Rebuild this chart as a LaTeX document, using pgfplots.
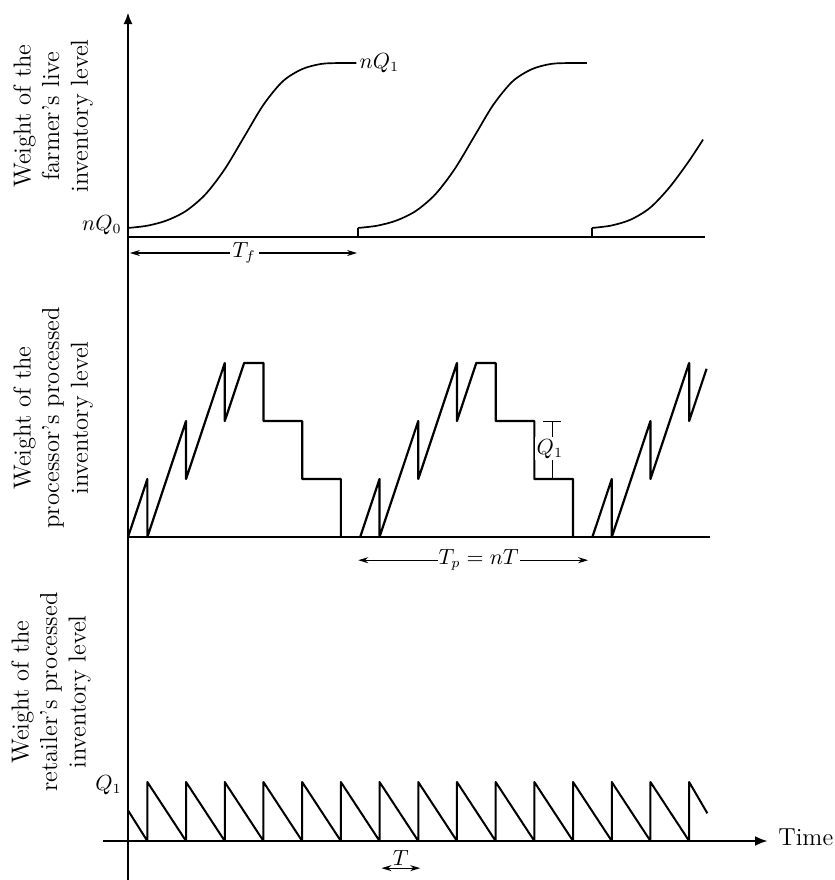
\documentclass[border=0pt]{standalone}
\usepackage{fontspec}
\usepackage{pgfplots}
\pgfplotsset{compat=1.18}
\usetikzlibrary{arrows.meta}
\begin{document}
\begin{tikzpicture}
\useasboundingbox (0,0) rectangle (417.5pt,-440pt);
\tikzset{
  lab/.style={rotate=90, align=center, font=\fontsize{12.3}{14.3}\selectfont},
  mlab/.style={font=\fontsize{10.5}{12}\selectfont},
  dim/.style={line width=0.6pt, {Stealth[length=5pt,width=3pt]}-{Stealth[length=5pt,width=3pt]}},
}
% main axis lines
\draw[line width=1.3pt, -{Latex[length=6pt,width=4.5pt]}] (64pt,-440pt) -- (64pt,-6pt);
\draw[line width=1.3pt] (64pt,-118.5pt) -- (352.5pt,-118.5pt);
\draw[line width=1.3pt] (64pt,-268.5pt) -- (355pt,-268.5pt);
\draw[line width=1.3pt, -{Latex[length=6.5pt,width=5pt]}] (51.5pt,-420.5pt) -- (384pt,-420.5pt);
\node[anchor=base west, inner sep=0pt, font=\fontsize{12.3}{14.3}\selectfont] at (389pt,-422.5pt) {Time};
% y labels
\node[lab] at (26.5pt,-58pt) {Weight of the\\farmer's live\\inventory level};
\node[lab] at (26.5pt,-209pt) {Weight of the\\processor's processed\\inventory level};
\node[lab] at (25.5pt,-346pt) {Weight of the\\retailer's processed\\inventory level};

% ---------------- Farmer ----------------
\begin{axis}[at={(64pt,-118.5pt)}, anchor=origin, x=19.35pt, y=87pt,
  xmin=0, xmax=15, ymin=0, ymax=1, hide axis, clip=false]
\addplot[line width=0.85pt, smooth] coordinates {
 (0,0.052) (0.5,0.065) (1.0,0.095) (1.5,0.150) (2.0,0.245) (2.5,0.390)
 (3.0,0.575) (3.5,0.760) (4.0,0.895) (4.5,0.965) (5.0,0.995) (5.5,1.0) (5.9,1.0)};
\addplot[line width=0.85pt] coordinates {(5.94,0) (5.94,0.052)};
\addplot[line width=0.85pt, smooth] coordinates {
 (5.94,0.052) (6.44,0.065) (6.94,0.095) (7.44,0.150) (7.94,0.245) (8.44,0.390)
 (8.94,0.575) (9.44,0.760) (9.94,0.895) (10.44,0.965) (10.94,0.995) (11.44,1.0) (11.86,1.0)};
\addplot[line width=0.85pt] coordinates {(11.99,0) (11.99,0.052)};
\addplot[line width=0.85pt, smooth] coordinates {
 (11.99,0.052) (12.49,0.066) (12.99,0.100) (13.49,0.168) (13.99,0.285)
 (14.49,0.435) (14.86,0.560)};
\node[mlab, anchor=east, inner sep=0pt, xshift=-3pt] at (axis cs:0,0.07) {$nQ_0$};
\node[mlab, anchor=west, inner sep=0pt, xshift=1.5pt] at (axis cs:5.9,1.0) {$nQ_1$};
\draw[dim] (axis cs:0.05,-0.092) -- (axis cs:5.92,-0.092);
\node[mlab, fill=white, inner sep=1.5pt] at (axis cs:3.0,-0.092) {$T_f$};
\end{axis}

% ---------------- Processor ----------------
\begin{axis}[at={(64pt,-268.5pt)}, anchor=origin, x=19.35pt, y=29pt,
  xmin=0, xmax=15, ymin=0, ymax=3, hide axis, clip=false]
\addplot[line width=1.1pt, line join=round] coordinates {
 (0,0) (0.5,1) (0.5,0) (1.5,2) (1.5,1) (2.5,3) (2.5,2) (3,3) (3.5,3) (3.5,2)
 (4.5,2) (4.5,1) (5.5,1) (5.5,0)};
\addplot[line width=1.1pt, line join=round] coordinates {
 (6,0) (6.5,1) (6.5,0) (7.5,2) (7.5,1) (8.5,3) (8.5,2) (9,3) (9.5,3) (9.5,2)
 (10.5,2) (10.5,1) (11.5,1) (11.5,0)};
\addplot[line width=1.1pt, line join=round] coordinates {
 (12,0) (12.5,1) (12.5,0) (13.5,2) (13.5,1) (14.5,3) (14.5,2) (14.95,2.9)};
% Q1 dimension
\draw[line width=0.45pt] (axis cs:10.73,2) -- (axis cs:11.19,2);
\draw[line width=0.45pt] (axis cs:10.96,2) -- (axis cs:10.96,1);
\node[mlab, fill=white, inner sep=1pt] at (axis cs:10.9,1.52) {$Q_1$};
\draw[dim] (axis cs:5.95,-0.40) -- (axis cs:11.89,-0.40);
\node[mlab, fill=white, inner sep=0.5pt] at (axis cs:9.06,-0.40) {$T_p=nT$};
\end{axis}

% ---------------- Retailer ----------------
\begin{axis}[at={(64pt,-420.5pt)}, anchor=origin, x=19.35pt, y=29.5pt,
  xmin=0, xmax=15, ymin=0, ymax=1, hide axis, clip=false]
\addplot[line width=1pt, line join=round] coordinates {
 (0,0.52) (0.5,0) (0.5,1) (1.5,0) (1.5,1) (2.5,0) (2.5,1) (3.5,0) (3.5,1)
 (4.5,0) (4.5,1) (5.5,0) (5.5,1) (6.5,0) (6.5,1) (7.5,0) (7.5,1) (8.5,0)
 (8.5,1) (9.5,0) (9.5,1) (10.5,0) (10.5,1) (11.5,0) (11.5,1) (12.5,0)
 (12.5,1) (13.5,0) (13.5,1) (14.5,0) (14.5,1) (14.97,0.47)};
\node[mlab, anchor=east, inner sep=0pt, xshift=-3pt] at (axis cs:0,0.95) {$Q_1$};
\draw[dim] (axis cs:6.55,-0.46) -- (axis cs:7.55,-0.46);
\node[mlab, anchor=south, inner sep=1pt] at (axis cs:7.05,-0.46) {$T$};
\end{axis}
\end{tikzpicture}
\end{document}
